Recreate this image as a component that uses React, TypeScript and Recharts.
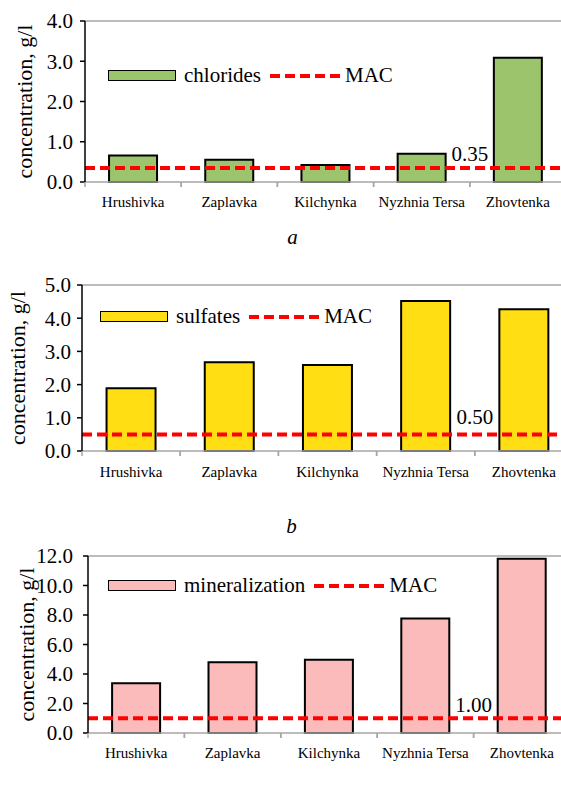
import { BarChart, Bar, XAxis, YAxis, ReferenceLine, Legend } from "recharts";

const SITES = ["Hrushivka", "Zaplavka", "Kilchynka", "Nyzhnia Tersa", "Zhovtenka"];

const CHLORIDES = [0.66, 0.55, 0.42, 0.7, 3.09];
const SULFATES = [1.89, 2.67, 2.59, 4.52, 4.27];
const MINERALIZATION = [3.38, 4.8, 4.96, 7.76, 11.82];

const MAC_CHLORIDES = 0.35;
const MAC_SULFATES = 0.5;
const MAC_MINERALIZATION = 1.0;

const TICKS_A = [0, 1, 2, 3, 4];
const TICKS_B = [0, 1, 2, 3, 4, 5];
const TICKS_C = [0, 2, 4, 6, 8, 10, 12];

const FONT = "Liberation Serif, DejaVu Serif, serif";
const GRAY = "#A6A6A6";
const RED = "#FF0000";

/** category label centred in the band, tick mark at the band boundary (Excel style) */
function SiteTick(props: any) {
  const { x, y, payload, gap } = props;
  const half = payload?.offset ?? 0;
  const y0 = y - 5 - gap;
  return (
    <g>
      <line x1={x - half} y1={y0} x2={x - half} y2={y0 + 5} stroke={GRAY} strokeWidth={1.5} />
      <line x1={x + half} y1={y0} x2={x + half} y2={y0 + 5} stroke={GRAY} strokeWidth={1.5} />
      <text
        x={x}
        y={y}
        dy="0.71em"
        textAnchor="middle"
        fill="#000"
        style={{ fontFamily: FONT, fontSize: 15 }}
      >
        {payload.value}
      </text>
    </g>
  );
}

function PanelLegend({ payload }: any) {
  const item = payload?.[0];
  return (
    <div
      style={{
        display: "flex",
        alignItems: "center",
        fontFamily: FONT,
        fontSize: 21,
        color: "#000",
        whiteSpace: "nowrap",
      }}
    >
      <span
        style={{
          display: "inline-block",
          width: 68,
          height: 11,
          background: item?.color,
          border: "1.5px solid #000",
          boxSizing: "border-box",
          marginRight: 8,
        }}
      />
      <span>{item?.value}</span>
      <svg width={70} height={6} style={{ margin: "0 5px 0 9px" }}>
        <line x1={0} y1={3} x2={70} y2={3} stroke={RED} strokeWidth={4} strokeDasharray="10 5" />
      </svg>
      <span>MAC</span>
    </div>
  );
}

interface PanelProps {
  name: string;
  values: number[];
  color: string;
  mac: number;
  ticks: number[];
  letter: string;
  top: number;
  width: number;
  height: number;
  marginTop: number;
  axisWidth: number;
  axisHeight: number;
  labelOffset: number;
  tickGap: number;
  valueGap: number;
  letterDx: number;
  legendLeft: number;
  legendTop: number;
  macDy: number;
}

function Panel(p: PanelProps) {
  const data = SITES.map((site, i) => ({ site, value: p.values[i] }));
  const max = p.ticks[p.ticks.length - 1];
  return (
    <div style={{ position: "absolute", left: 0, top: p.top, fontFamily: FONT }}>
      <BarChart
        width={p.width}
        height={p.height}
        data={data}
        margin={{ top: p.marginTop, right: 0, bottom: 0, left: 0 }}
        barCategoryGap="25%"
        style={{ fontFamily: FONT }}
      >
        <XAxis
          dataKey="site"
          interval={0}
          height={p.axisHeight}
          axisLine={{ stroke: GRAY, strokeWidth: 1.5 }}
          tickLine={false}
          tickSize={5}
          tickMargin={p.tickGap}
          tick={<SiteTick gap={p.tickGap} />}
          label={{
            value: p.letter,
            position: "insideBottom",
            offset: 8,
            dx: p.letterDx,
            fill: "#000",
            style: { fontFamily: FONT, fontSize: 21, fontStyle: "italic" },
          }}
        />
        <YAxis
          type="number"
          domain={[0, max]}
          ticks={p.ticks}
          interval={0}
          width={p.axisWidth}
          tickFormatter={(v: number) => v.toFixed(1)}
          axisLine={{ stroke: "#000", strokeWidth: 1.5 }}
          tickLine={{ stroke: "#000", strokeWidth: 1.5 }}
          tickSize={5}
          tickMargin={p.valueGap}
          tick={{ fill: "#000", style: { fontFamily: FONT, fontSize: 21 } }}
          label={{
            value: "concentration, g/l",
            angle: -90,
            position: "insideLeft",
            offset: p.labelOffset,
            fill: "#000",
            style: { textAnchor: "middle", fontFamily: FONT, fontSize: 22 },
          }}
        />
        <Legend
          layout="horizontal"
          verticalAlign="middle"
          align="center"
          content={<PanelLegend />}
          wrapperStyle={{ left: p.legendLeft, top: p.legendTop, width: "auto" }}
        />
        <Bar
          dataKey="value"
          name={p.name}
          fill={p.color}
          stroke="#000"
          strokeWidth={2}
          isAnimationActive={false}
        />
        <ReferenceLine y={max} stroke={GRAY} strokeWidth={1.5} />
        <ReferenceLine
          y={p.mac}
          stroke={RED}
          strokeWidth={4}
          strokeDasharray="10 5"
          label={{
            content: (lp: any) => {
              const vb = lp.viewBox ?? {};
              return (
                <text
                  x={vb.x + vb.width * 0.8}
                  y={vb.y - p.macDy}
                  textAnchor="middle"
                  fill="#000"
                  style={{ fontFamily: FONT, fontSize: 21 }}
                >
                  {p.mac.toFixed(2)}
                </text>
              );
            },
          }}
        />
      </BarChart>
    </div>
  );
}

export default function App() {
  return (
    <div
      style={{
        position: "absolute",
        left: 0,
        top: 0,
        width: 561,
        height: 793,
        overflow: "hidden",
        background: "#fff",
      }}
    >
      <Panel
        name="chlorides"
        values={CHLORIDES}
        color="#9BC46C"
        mac={MAC_CHLORIDES}
        ticks={TICKS_A}
        letter="a"
        top={0}
        width={566}
        height={252}
        marginTop={21}
        axisWidth={85}
        axisHeight={70}
        labelOffset={24}
        tickGap={9}
        valueGap={7}
        letterDx={-33}
        legendLeft={108}
        legendTop={63}
        macDy={7}
      />
      <Panel
        name="sulfates"
        values={SULFATES}
        color="#FFDE14"
        mac={MAC_SULFATES}
        ticks={TICKS_B}
        letter="b"
        top={260}
        width={573}
        height={281}
        marginTop={25}
        axisWidth={82}
        axisHeight={90}
        labelOffset={17}
        tickGap={10}
        valueGap={6}
        letterDx={-36}
        legendLeft={100}
        legendTop={44}
        macDy={10}
      />
      <Panel
        name="mineralization"
        values={MINERALIZATION}
        color="#FCBBBB"
        mac={MAC_MINERALIZATION}
        ticks={TICKS_C}
        letter="c"
        top={530}
        width={570}
        height={283}
        marginTop={26}
        axisWidth={88}
        axisHeight={80}
        labelOffset={26}
        tickGap={9}
        valueGap={10}
        letterDx={-37}
        legendLeft={108}
        legendTop={43}
        macDy={6}
      />
    </div>
  );
}
